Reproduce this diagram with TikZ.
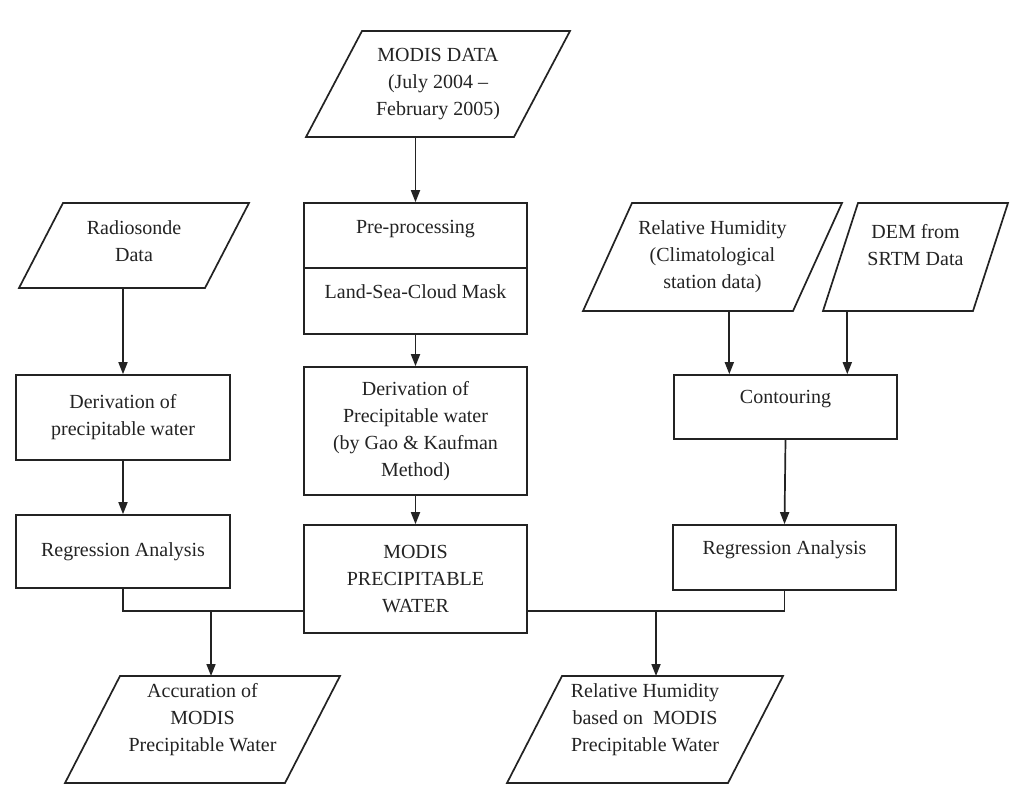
\documentclass[tikz,border=0pt]{standalone}
\usepackage{fontspec}
\setmainfont{Liberation Serif}
\usepackage{tikz}
\usetikzlibrary{
  arrows.meta,
  calc
}
\definecolor{InkGray}{RGB}{35, 35, 35}
\tikzset{
    procbox/.style={rectangle, draw=InkGray, line width=0.85pt, minimum width=111.5pt, inner sep=2pt,
        align=center, text=InkGray, font=\fontsize{10}{13.5}\selectfont},
    datain/.style={rectangle, outer sep=0pt, inner sep=2pt,
        align=center, text=InkGray, font=\fontsize{10}{13.5}\selectfont},
    lift/.style={text depth=#1},
    flow/.style={draw=InkGray, line width=0.85pt, -{Triangle[length=6pt, width=4.5pt]}},
    link/.style={draw=InkGray, line width=0.85pt}
}

\begin{document}
\begin{tikzpicture}[x=0.5pt, y=-0.5pt]
                \fill[white] (0,0) rectangle (1013,798);
                \useasboundingbox (0,0) rectangle (1013,798);

                \node[datain, minimum width=132pt, minimum height=53pt] (modis) at (438,84) {MODIS DATA\\(July 2004 --\\February 2005)};
                \node[procbox, minimum height=32.5pt, lift=9pt] (prep) at (415.5,235.5) {Pre-processing};
                \node[procbox, minimum height=33pt, lift=9pt] (mask) at (415.5,301) {Land-Sea-Cloud Mask};
                \node[procbox, minimum height=64pt] (derivm) at (415.5,431) {Derivation of\\Precipitable water\\(by Gao \& Kaufman\\Method)};
                \node[procbox, minimum height=54pt] (modispw) at (415.5,579) {MODIS\\PRECIPITABLE\\WATER};

                \node[datain, minimum width=115pt, minimum height=42.5pt, lift=4pt] (radio) at (134,245.5) {Radiosonde\\Data};
                \node[procbox, minimum width=107pt, minimum height=42.5pt] (derivr) at (123,417.5) {Derivation of\\precipitable water};
                \node[procbox, minimum width=107pt, minimum height=36.5pt] (regr) at (123,551.5) {Regression Analysis};

                \node[datain, minimum width=129.5pt, minimum height=54pt] (relhum) at (712.5,257) {Relative Humidity\\(Climatological\\station data)};
                \node[datain, minimum width=92.5pt, minimum height=54pt, lift=12pt] (dem) at (915.5,257) {DEM from\\SRTM Data};
                \node[procbox, minimum height=32pt, lift=10pt] (contour) at (785.5,407) {Contouring};
                \node[procbox, minimum height=32.5pt, lift=10pt] (regrh) at (784.5,557.5) {Regression Analysis};

                \node[datain, minimum width=137.5pt, minimum height=53.5pt, lift=12pt] (accur) at (202.5,729.5) {Accuration of\\MODIS\\Precipitable Water};
                \node[datain, minimum width=138pt, minimum height=53.5pt, lift=12pt] (relmodis) at (645,729.5) {Relative Humidity\\based on~ MODIS\\Precipitable Water};

                \foreach \n/\s in {modis/56, radio/44, relhum/49, dem/35, accur/55, relmodis/55}
                    \draw[draw=InkGray, line width=0.85pt] (\n.south west) -- ($(\n.south east)+(-\s,0)$)
                        -- (\n.north east) -- ($(\n.north west)+(\s,0)$) -- cycle;

                \coordinate (inA) at ($(contour.north west)!.25!(contour.north east)$);
                \coordinate (inB) at ($(contour.north west)!.775!(contour.north east)$);
                \coordinate (busL) at (211,611);
                \coordinate (busR) at (656,611);

                \draw[flow] (modis.south -| prep.north) -- (prep.north);
                \draw[flow] (mask.south) -- (derivm.north);
                \draw[flow] (derivm.south) -- (modispw.north);
                \draw[flow] (radio.south -| derivr.north) -- (derivr.north);
                \draw[flow] (derivr.south) -- (regr.north);
                \draw[flow] (relhum.south -| inA) -- (inA);
                \draw[flow] (dem.south -| inB) -- (inB);
                \draw[flow] (contour.south) -- (regrh.north);
                \draw[link] (regr.south) |- (modispw.west |- busL);
                \draw[link] (regrh.south) |- (modispw.east |- busR);
                \draw[flow] (busL) -- (busL |- accur.north);
                \draw[flow] (busR) -- (busR |- relmodis.north);
            \end{tikzpicture}
\end{document}
